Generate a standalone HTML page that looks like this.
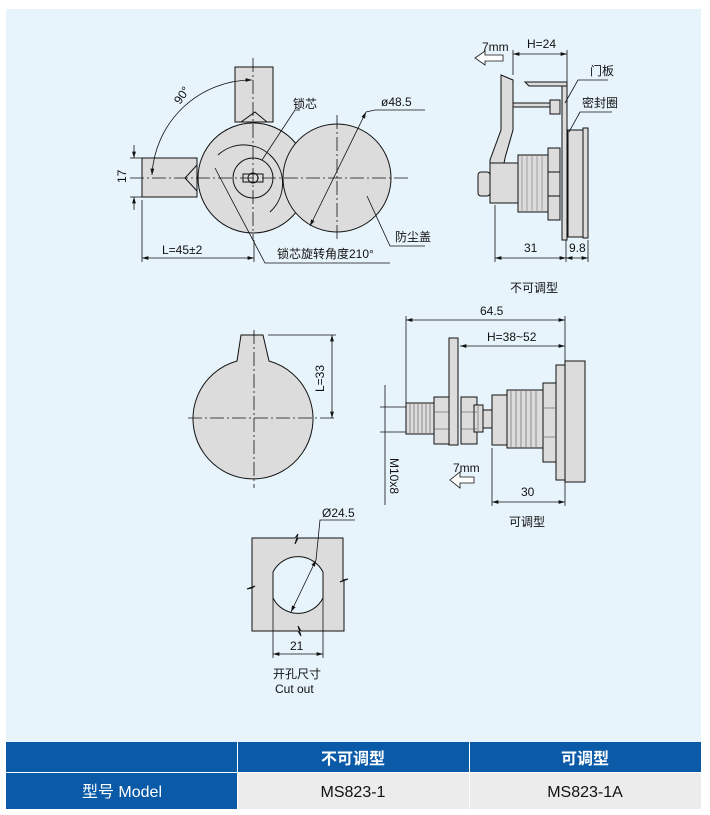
<!DOCTYPE html>
<html><head><meta charset="utf-8"><style>
body{margin:0;width:710px;height:815px;background:#fff;overflow:hidden}
svg{display:block}
text{font-family:"Liberation Sans","Noto Sans CJK SC",sans-serif;fill:#111}
</style></head><body>
<svg width="710" height="815" viewBox="0 0 710 815" xmlns="http://www.w3.org/2000/svg">
<defs>
<marker id="a" viewBox="0 0 10 6" refX="10" refY="3" markerWidth="8" markerHeight="5" orient="auto-start-reverse"><path d="M0,0L10,3L0,6z" fill="#111"/></marker>
</defs>
<rect x="6" y="9" width="695" height="733" fill="#e8f4fc"/>
<g stroke="#111" stroke-width="1" fill="#dcdcdc">
<rect x="235" y="67" width="38" height="55"/>
<path d="M241,122 L255,112 L267,122" fill="none"/>
<rect x="142" y="158" width="55" height="39"/>
<path d="M197,165 L185,178 L197,191" fill="none"/>
<circle cx="253" cy="178" r="55"/>
<circle cx="337" cy="178" r="54"/>
<g fill="none">
<path d="M218,155 A37,37 0 1 1 270,212"/>
<circle cx="253" cy="178" r="20"/>
<circle cx="253" cy="178" r="5"/>
<path d="M243,174 h20 v8 h-20z"/>
</g>
</g>
<g stroke="#111" stroke-width="0.8" fill="none">
<line x1="253" y1="58" x2="253" y2="240" stroke-dasharray="14,3,2,3"/>
<line x1="130" y1="178" x2="410" y2="178" stroke-dasharray="14,3,2,3"/>
<line x1="337" y1="115" x2="337" y2="240" stroke-dasharray="14,3,2,3"/>
<line x1="130" y1="158" x2="142" y2="158"/><line x1="130" y1="197" x2="142" y2="197"/>
<line x1="134" y1="145" x2="134" y2="158" marker-end="url(#a)"/>
<line x1="134" y1="210" x2="134" y2="197" marker-end="url(#a)"/>
<line x1="142" y1="200" x2="142" y2="262"/><line x1="254" y1="240" x2="254" y2="262"/>
<line x1="142" y1="258" x2="254" y2="258" marker-start="url(#a)" marker-end="url(#a)"/>
<path d="M152,175 A100,100 0 0 1 252,80" marker-start="url(#a)" marker-end="url(#a)"/>
<line x1="366" y1="112" x2="310" y2="226" marker-start="url(#a)" marker-end="url(#a)"/>
<polyline points="366,112 375,110 425,110"/>
<polyline points="262,160 295,110 300,110"/>
<polyline points="367,196 390,246 425,246"/>
<polyline points="215,168 265,263 390,263"/>
</g>
<text x="293" y="108" font-size="12">锁芯</text>
<text x="381" y="106" font-size="12">ø48.5</text>
<text x="395" y="241" font-size="12">防尘盖</text>
<text x="277" y="258" font-size="12">锁芯旋转角度210°</text>
<text x="162" y="254" font-size="12">L=45±2</text>
<text x="0" y="0" font-size="12" transform="translate(126,183) rotate(-90)">17</text>
<text x="0" y="0" font-size="12" transform="translate(180,105) rotate(-55)">90°</text>

<!-- top-right -->
<g stroke="#111" stroke-width="1" fill="#dcdcdc">
<path d="M501,75 L513,80 L513,130 L505,158 L497,200 L490,200 L490,160 L501,130z"/>
<rect x="478" y="172" width="12" height="24" rx="3"/>
<rect x="490" y="163" width="28" height="40"/>
<rect x="518" y="155" width="30" height="57"/>
<path d="M548,148 h12 v72 h-12z"/>
<line x1="548" y1="172" x2="560" y2="172"/><line x1="548" y1="196" x2="560" y2="196"/>
<rect x="562" y="85" width="5" height="155"/>
<rect x="568" y="130" width="15" height="107"/>
<rect x="583" y="128" width="5" height="110"/>
<path d="M525,82 h42 v4 h-38 z"/>
<path d="M513,103 h37 v4 h-37z"/>
<path d="M550,100 h10 v14 h-10z"/>
</g>
<g stroke="#777" stroke-width="0.6">
<line x1="522" y1="156" x2="522" y2="211"/><line x1="527" y1="156" x2="527" y2="211"/><line x1="532" y1="156" x2="532" y2="211"/><line x1="537" y1="156" x2="537" y2="211"/><line x1="542" y1="156" x2="542" y2="211"/>
</g>
<g stroke="#111" stroke-width="0.8" fill="none">
<line x1="513" y1="50" x2="513" y2="75"/><line x1="567" y1="50" x2="567" y2="85"/>
<line x1="513" y1="54" x2="567" y2="54" marker-start="url(#a)" marker-end="url(#a)"/>
<path d="M503,55 h-18 v-4 l-10,7 l10,7 v-4 h18z" fill="#fff"/>
<line x1="495" y1="205" x2="495" y2="262"/><line x1="566" y1="240" x2="566" y2="262"/><line x1="588" y1="240" x2="588" y2="262"/>
<line x1="495" y1="258" x2="566" y2="258" marker-start="url(#a)" marker-end="url(#a)"/>
<line x1="566" y1="258" x2="588" y2="258" marker-start="url(#a)" marker-end="url(#a)"/>
<polyline points="565,103 578,80 608,80"/>
<polyline points="569,132 580,112 612,112"/>
</g>
<text x="482" y="51" font-size="12">7mm</text>
<text x="527" y="48" font-size="12">H=24</text>
<text x="590" y="75" font-size="12">门板</text>
<text x="582" y="107" font-size="12">密封圈</text>
<text x="524" y="252" font-size="12">31</text>
<text x="569" y="252" font-size="12">9.8</text>
<text x="510" y="292" font-size="12">不可调型</text>

<!-- middle-left -->
<g stroke="#111" stroke-width="1" fill="#dcdcdc">
<path d="M241,335 L263,335 L269,361 A60,60 0 1 1 237,361 Z"/>
</g>
<g stroke="#111" stroke-width="0.8" fill="none">
<line x1="254" y1="330" x2="254" y2="488" stroke-dasharray="14,3,2,3"/>
<line x1="188" y1="418" x2="336" y2="418" stroke-dasharray="14,3,2,3"/>
<line x1="268" y1="335" x2="336" y2="335"/>
<line x1="332" y1="335" x2="332" y2="418" marker-start="url(#a)" marker-end="url(#a)"/>
</g>
<text x="0" y="0" font-size="12" transform="translate(324,392) rotate(-90)">L=33</text>

<!-- cutout -->
<path d="M252,538 H295 l3,-4 l-3,10 l3,-6 H343 V580 l5,-1 l-8,3 l4,-2 V631 H301 l-3,-5 l3,10 l-3,-5 H252 V588 l-5,1 l8,-3 l-3,2 Z" fill="#dcdcdc" stroke="#111"/>
<path d="M273,572 A28,28 0 0 1 323,572 V598 A28,28 0 0 1 273,598 Z" fill="#e8f4fc" stroke="#111"/>
<g stroke="#111" stroke-width="0.8" fill="none">
<line x1="316" y1="560" x2="291" y2="612" marker-start="url(#a)" marker-end="url(#a)"/>
<polyline points="316,560 320,520 355,520"/>
<line x1="273" y1="598" x2="273" y2="658"/><line x1="323" y1="598" x2="323" y2="658"/>
<line x1="273" y1="654" x2="323" y2="654" marker-start="url(#a)" marker-end="url(#a)"/>
</g>
<text x="322" y="517" font-size="12">Ø24.5</text>
<text x="290" y="650" font-size="12">21</text>
<text x="273" y="678" font-size="12">开孔尺寸</text>
<text x="275" y="693" font-size="12">Cut out</text>

<!-- middle-right -->
<g stroke="#111" stroke-width="1" fill="#dcdcdc">
<rect x="406" y="403" width="30" height="31"/>
<rect x="434" y="397" width="16" height="47"/>
<rect x="461" y="397" width="16" height="47"/>
<rect x="474" y="405" width="9" height="27"/>
<rect x="483" y="410" width="9" height="18"/>
<rect x="492" y="395" width="15" height="50"/>
<rect x="507" y="390" width="36" height="58"/>
<rect x="543" y="383" width="13" height="79"/>
<rect x="556" y="365" width="9" height="115"/>
<rect x="565" y="361" width="20" height="121"/>
<rect x="449" y="338" width="9" height="107"/>
</g>
<g stroke="#555" stroke-width="0.6">
<path d="M410,404v29M414,404v29M418,404v29M422,404v29M426,404v29M430,404v29M511,391v56M516,391v56M521,391v56M526,391v56M531,391v56M536,391v56M478,406v25"/>
<line x1="434" y1="412" x2="450" y2="412"/><line x1="434" y1="429" x2="450" y2="429"/>
<line x1="461" y1="412" x2="477" y2="412"/><line x1="461" y1="429" x2="477" y2="429"/>
<line x1="543" y1="408" x2="556" y2="408"/><line x1="543" y1="437" x2="556" y2="437"/>
</g>
<g stroke="#111" stroke-width="0.8" fill="none">
<line x1="406" y1="316" x2="406" y2="403"/><line x1="565" y1="316" x2="565" y2="361"/>
<line x1="406" y1="320" x2="565" y2="320" marker-start="url(#a)" marker-end="url(#a)"/>
<line x1="460" y1="346" x2="565" y2="346" marker-start="url(#a)" marker-end="url(#a)"/>
<line x1="385" y1="385" x2="385" y2="505"/>
<line x1="380" y1="407" x2="406" y2="407"/><line x1="380" y1="432" x2="406" y2="432"/>
<path d="M474,477 h-14 v-5 l-10,8 l10,8 v-5 h14z" fill="#fff"/>
<line x1="492" y1="448" x2="492" y2="506"/><line x1="565" y1="482" x2="565" y2="506"/>
<line x1="492" y1="502" x2="565" y2="502" marker-start="url(#a)" marker-end="url(#a)"/>
</g>
<text x="480" y="315" font-size="12">64.5</text>
<text x="487" y="341" font-size="12">H=38~52</text>
<text x="0" y="0" font-size="12" transform="translate(390,458) rotate(90)">M10x8</text>
<text x="453" y="472" font-size="12">7mm</text>
<text x="521" y="496" font-size="12">30</text>
<text x="509" y="526" font-size="12">可调型</text>

<!-- table -->
<rect x="6" y="742" width="695" height="30" fill="#0a5aa8"/>
<rect x="6" y="773" width="231" height="36" fill="#0a5aa8"/>
<rect x="238" y="773" width="463" height="36" fill="#ececec"/>
<line x1="237.5" y1="742" x2="237.5" y2="809" stroke="#fff"/>
<line x1="469.5" y1="742" x2="469.5" y2="809" stroke="#fff"/>
<line x1="6" y1="772.5" x2="701" y2="772.5" stroke="#fff"/>
<text x="353" y="764" font-size="16" font-weight="bold" text-anchor="middle" style="fill:#fff">不可调型</text>
<text x="585" y="764" font-size="16" font-weight="bold" text-anchor="middle" style="fill:#fff">可调型</text>
<text x="122" y="797" font-size="16" text-anchor="middle" style="fill:#fff">型号 Model</text>
<text x="353" y="797" font-size="16" text-anchor="middle">MS823-1</text>
<text x="585" y="797" font-size="16" text-anchor="middle">MS823-1A</text>
</svg>
</body></html>
